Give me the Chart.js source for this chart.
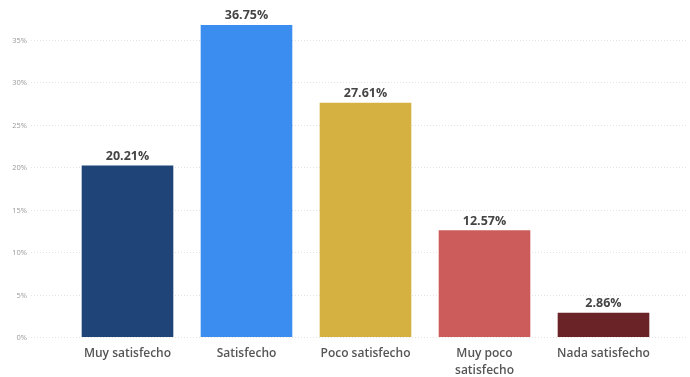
<!DOCTYPE html>
<html>
<head>
<meta charset="utf-8">
<script src="https://cdn.jsdelivr.net/npm/chart.js@4.4.1/dist/chart.umd.min.js"></script>
<style>
  html, body { margin: 0; padding: 0; background: #fff; }
  #wrap { width: 690px; height: 377px; }
</style>
</head>
<body>
<div id="wrap"><canvas id="chart"></canvas></div>
<script>
  'use strict';

  // Chart data.
  var CATEGORIES = ['Muy satisfecho', 'Satisfecho', 'Poco satisfecho', ['Muy poco', 'satisfecho'], 'Nada satisfecho'];
  var VALUES = [20.21, 36.75, 27.61, 12.57, 2.86];
  var Y_TICKS = [0, 5, 10, 15, 20, 25, 30, 35];
  var BAR_COLORS = ['#1F4578', '#3B8EF0', '#D5B141', '#CC5B5C', '#6A2327'];

  var FONT = '"Open Sans", "Noto Sans", sans-serif';

  /**
   * Dotted gridlines and percent labels, placed through the y scale.
   */
  var yAxisPlugin = {
    id: 'wideGrid',
    beforeDatasetsDraw: function (chart) {
      var ctx = chart.ctx;
      var y = chart.scales.y;
      ctx.save();
      ctx.strokeStyle = '#e3e3e3';
      ctx.lineWidth = 1;
      ctx.setLineDash([1, 2]);
      ctx.fillStyle = '#9a9a9a';
      ctx.font = '7.5px ' + FONT;
      ctx.textAlign = 'right';
      ctx.textBaseline = 'middle';
      Y_TICKS.forEach(function (v) {
        var py = Math.round(y.getPixelForValue(v)) + 0.5;
        ctx.beginPath();
        ctx.moveTo(31, py);
        ctx.lineTo(686, py);
        ctx.stroke();
        ctx.fillText(v + '%', 27, py);
      });
      ctx.restore();
    }
  };

  /**
   * Value labels above each bar.
   */
  var valueLabels = {
    id: 'valueLabels',
    afterDatasetsDraw: function (chart) {
      var ctx = chart.ctx;
      var meta = chart.getDatasetMeta(0);
      ctx.save();
      ctx.fillStyle = '#444';
      ctx.font = 'bold 12.5px ' + FONT;
      ctx.textAlign = 'center';
      ctx.textBaseline = 'bottom';
      meta.data.forEach(function (bar, i) {
        ctx.fillText(VALUES[i].toFixed(2) + '%', bar.x, bar.y - 3);
      });
      ctx.restore();
    }
  };

  new Chart(document.getElementById('chart'), {
    type: 'bar',
    data: {
      labels: CATEGORIES,
      datasets: [{
        data: VALUES,
        backgroundColor: BAR_COLORS,
        borderWidth: 0,
        categoryPercentage: 0.77,
        barPercentage: 1
      }]
    },
    options: {
      responsive: true,
      maintainAspectRatio: false,
      animation: false,
      layout: { padding: { left: 0, right: 27, top: 23, bottom: 0 } },
      plugins: {
        legend: { display: false },
        tooltip: { enabled: false }
      },
      scales: {
        x: {
          grid: { display: false },
          border: { display: false },
          afterFit: function (scale) { scale.height = 40; },
          ticks: {
            color: '#555',
            font: { family: FONT, size: 12, weight: '600', lineHeight: 1.4 },
            padding: 0,
            maxRotation: 0,
            autoSkip: false
          }
        },
        y: {
          min: 0,
          max: 37,
          grid: { display: false },
          border: { display: false },
          afterFit: function (scale) { scale.width = 68; },
          ticks: { display: false }
        }
      }
    },
    plugins: [yAxisPlugin, valueLabels]
  });
</script>
</body>
</html>
